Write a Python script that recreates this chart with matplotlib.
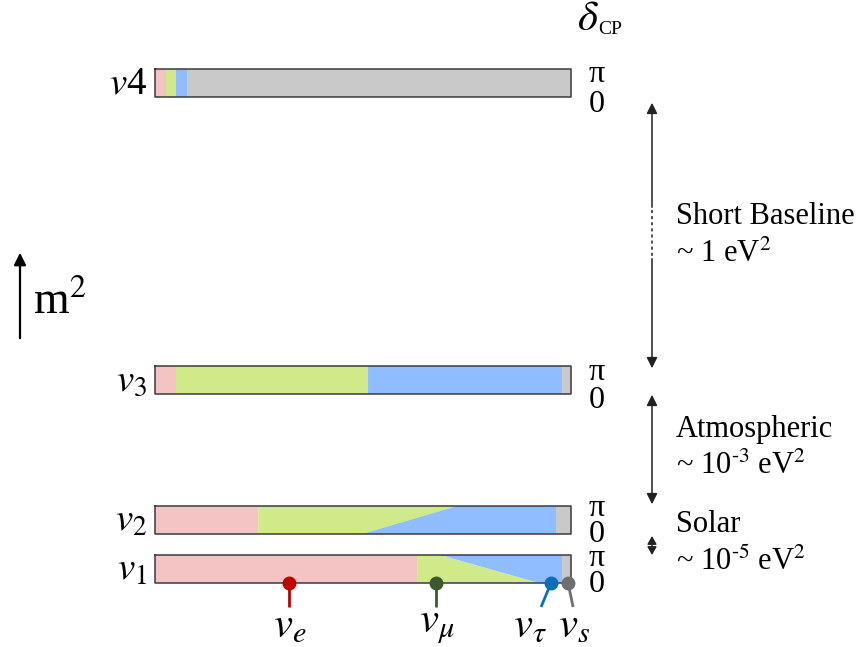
import numpy as np
import matplotlib.pyplot as plt

plt.rcParams['font.family'] = ['Liberation Serif', 'DejaVu Serif']
plt.rcParams['mathtext.fontset'] = 'stix'

# flavour content of each mass state, at delta_CP = 0 (bottom edge) and pi (top edge)
states = ['$v$4', '$v_3$', '$v_2$', '$v_1$']
frac_e = [0.026, 0.050, 0.248, 0.630]
frac_mu_0 = [0.024, 0.462, 0.250, 0.293]
frac_mu_pi = [0.024, 0.462, 0.478, 0.055]
frac_s = [0.924, 0.022, 0.036, 0.022]

flavours = ['$v_e$', '$v_\\mu$', '$v_\\tau$', '$v_s$']
flav_pos = [0.322, 0.675, 0.952, 0.993]
flav_col = ['#c00000', '#3b5a2e', '#0a6fba', '#6e6e6e']
flav_tilt = [0.0, 0.0, -0.024, 0.012]

split_names = ['Short Baseline', 'Atmospheric', 'Solar']
split_scale = ['~ 1 eV$^2$', '~ 10$^{\u20103}$ eV$^2$', '~ 10$^{\u20105}$ eV$^2$']

fill_cols = ['#f4c4c4', '#d0ea8a', '#8fbdff', '#c9c9c9']

# layout (pixels, y down); x measured in units of the bar width
W, H = 856, 647
x0, bw = 155, 416
bar_top = [69, 366, 506, 555]
bar_h = 28
pi_y = [75, 372, 509, 558]
zero_y = [104, 400, 535, 585]

fig = plt.figure(figsize=(W / 100, H / 100), dpi=100)
ax = fig.add_axes([0, 0, 1, 1])
ax.set_xlim(-x0 / bw, (W - x0) / bw)
ax.set_ylim(H, 0)
ax.axis('off')


def px(x):
    return (x - x0) / bw


for i in range(len(states)):
    yt, yb = bar_top[i], bar_top[i] + bar_h
    e, s = frac_e[i], frac_s[i]
    mb, mt = frac_mu_0[i], frac_mu_pi[i]
    # cumulative boundaries bottom / top
    bnd_b = [0, e, e + mb, 1 - s, 1]
    bnd_t = [0, e, e + mt, 1 - s, 1]
    for k in range(4):
        ax.fill([bnd_b[k], bnd_b[k + 1], bnd_t[k + 1], bnd_t[k]],
                [yb, yb, yt, yt], color=fill_cols[k], lw=0)
    ax.plot([0, 1, 1, 0, 0], [yt, yt, yb, yb, yt], color='#3a3a3a', lw=1.1)
    ax.text(px(147), yt + bar_h / 2 + 1, states[i], fontsize=28, ha='right', va='center')
    ax.text(px(597), pi_y[i], 'π', fontsize=23, ha='center', va='center')
    ax.text(px(597), zero_y[i], '0', fontsize=23, ha='center', va='center')

# flavour pins below the lightest state
yb1 = bar_top[3] + bar_h
for k in range(len(flavours)):
    xs = flav_pos[k]
    ax.plot([xs, xs + flav_tilt[k]], [yb1, yb1 + 24], color=flav_col[k], lw=2, solid_capstyle='butt')
    ax.plot(xs, yb1, 'o', ms=9, color=flav_col[k], zorder=5)
lbl_x = [290, 437, 530, 574]
for k in range(len(flavours)):
    ax.text(px(lbl_x[k]), 627, flavours[k], fontsize=31, ha='center', va='center')

ax.text(px(588), 20, '$\\delta$', fontsize=31, ha='center', va='center')
ax.text(px(598), 29, 'CP', fontsize=14, ha='left', va='center')

# m^2 axis arrow
ax.annotate('', xy=(px(20), 250), xytext=(px(20), 341),
            arrowprops=dict(arrowstyle='-|>', lw=1.6, color='black', mutation_scale=18))
ax.text(px(33), 302, 'm$^2$', fontsize=33, ha='left', va='center')

# splitting arrows on the right
ax_x = px(652)
arr = dict(arrowstyle='-|>', lw=1.1, color='#222222', mutation_scale=16)
ax.annotate('', xy=(ax_x, 100), xytext=(ax_x, 210), arrowprops=arr)
ax.plot([ax_x, ax_x], [210, 256], color='#222222', lw=1.1, ls=(0, (2, 2)))
ax.annotate('', xy=(ax_x, 371), xytext=(ax_x, 256), arrowprops=arr)
ax.annotate('', xy=(ax_x, 392), xytext=(ax_x, 507),
            arrowprops=dict(arrowstyle='<|-|>', lw=1.1, color='#222222', mutation_scale=16))
ax.annotate('', xy=(ax_x, 536), xytext=(ax_x, 555),
            arrowprops=dict(arrowstyle='<|-|>,head_length=0.35,head_width=0.2', lw=1.0,
                            color='#222222', mutation_scale=14, shrinkA=0, shrinkB=0))

name_y = [216, 430, 525]
scale_y = [254, 466, 562]
for k in range(len(split_names)):
    ax.text(px(676), name_y[k], split_names[k], fontsize=22, ha='left', va='center')
    ax.text(px(676), scale_y[k], split_scale[k], fontsize=22, ha='left', va='center')

fig.savefig('out.png', dpi=100)
